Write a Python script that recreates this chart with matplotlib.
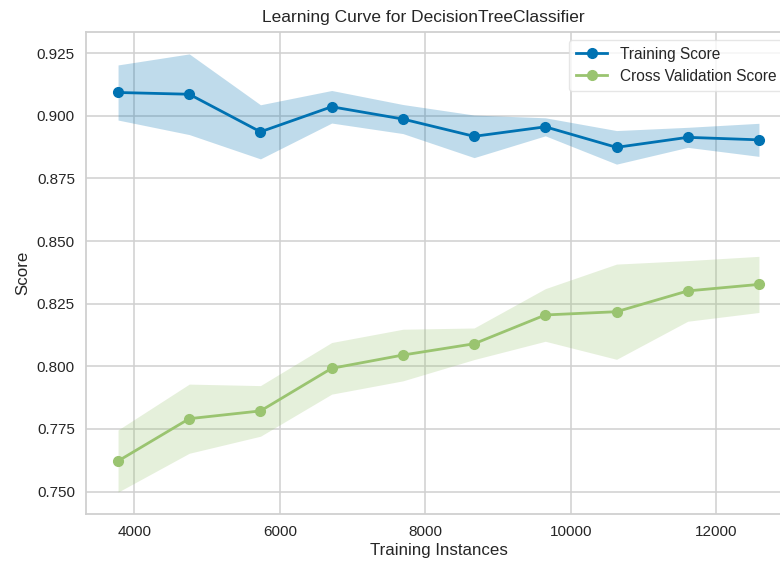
import numpy as np
import matplotlib
matplotlib.use("Agg")
import matplotlib.pyplot as plt

# Learning curve data (training set sizes and score statistics)
train_sizes = [3775, 4754, 5733, 6712, 7691, 8670, 9649, 10628, 11607, 12586]
train_mean = [0.9093, 0.9086, 0.8936, 0.9036, 0.8987, 0.8918, 0.8956, 0.8874, 0.8914, 0.8904]
train_std = [0.0110, 0.0161, 0.0108, 0.0065, 0.0058, 0.0085, 0.0036, 0.0067, 0.0040, 0.0066]
cv_mean = [0.7622, 0.7791, 0.7822, 0.7992, 0.8045, 0.8090, 0.8205, 0.8218, 0.8301, 0.8327]
cv_std = [0.0124, 0.0138, 0.0101, 0.0103, 0.0103, 0.0063, 0.0105, 0.0190, 0.0121, 0.0112]

title = "Learning Curve for DecisionTreeClassifier"
xlabel = "Training Instances"
ylabel = "Score"
labels = ["Training Score", "Cross Validation Score"]

blue = "#0072B2"
green = "#9AC470"

plt.rcParams["font.family"] = ["Liberation Sans", "DejaVu Sans"]
plt.rcParams["text.color"] = "#262626"
plt.rcParams["axes.labelcolor"] = "#262626"
plt.rcParams["xtick.color"] = "#262626"
plt.rcParams["ytick.color"] = "#262626"

fig = plt.figure(figsize=(7.8, 5.66), dpi=100)
ax = fig.add_axes([86 / 780, 52 / 566, 705 / 780, 482 / 566])

x = np.array(train_sizes)
tm, ts = np.array(train_mean), np.array(train_std)
cm, cs = np.array(cv_mean), np.array(cv_std)

ax.fill_between(x, tm - ts, tm + ts, color=blue, alpha=0.25, linewidth=0)
ax.fill_between(x, cm - cs, cm + cs, color=green, alpha=0.25, linewidth=0)
ax.plot(x, tm, "o-", color=blue, lw=2, ms=7, label=labels[0])
ax.plot(x, cm, "o-", color=green, lw=2, ms=7, label=labels[1])

ax.set_title(title, fontsize=12.5, pad=7, x=0.479)
ax.set_xlabel(xlabel, fontsize=12.2, labelpad=3)
ax.set_ylabel(ylabel, fontsize=12.2, labelpad=5)
ax.set_xticks([4000, 6000, 8000, 10000, 12000])
ax.set_yticks([0.750, 0.775, 0.800, 0.825, 0.850, 0.875, 0.900, 0.925])
ax.yaxis.set_major_formatter(matplotlib.ticker.FormatStrFormatter("%.3f"))
ax.tick_params(axis="both", length=0, labelsize=11, pad=8)

ax.set_facecolor("white")
ax.grid(True, color="#d0d0d0", linewidth=1.1)
ax.set_axisbelow(True)
for s in ax.spines.values():
    s.set_color("#d0d0d0")
    s.set_linewidth(1.3)

leg = ax.legend(loc="upper right", frameon=True, fontsize=11.2, framealpha=0.8,
                edgecolor="#e0e0e0", borderpad=0.45, handlelength=2.0,
                labelspacing=0.45)

fig.savefig("out.png", dpi=100)
